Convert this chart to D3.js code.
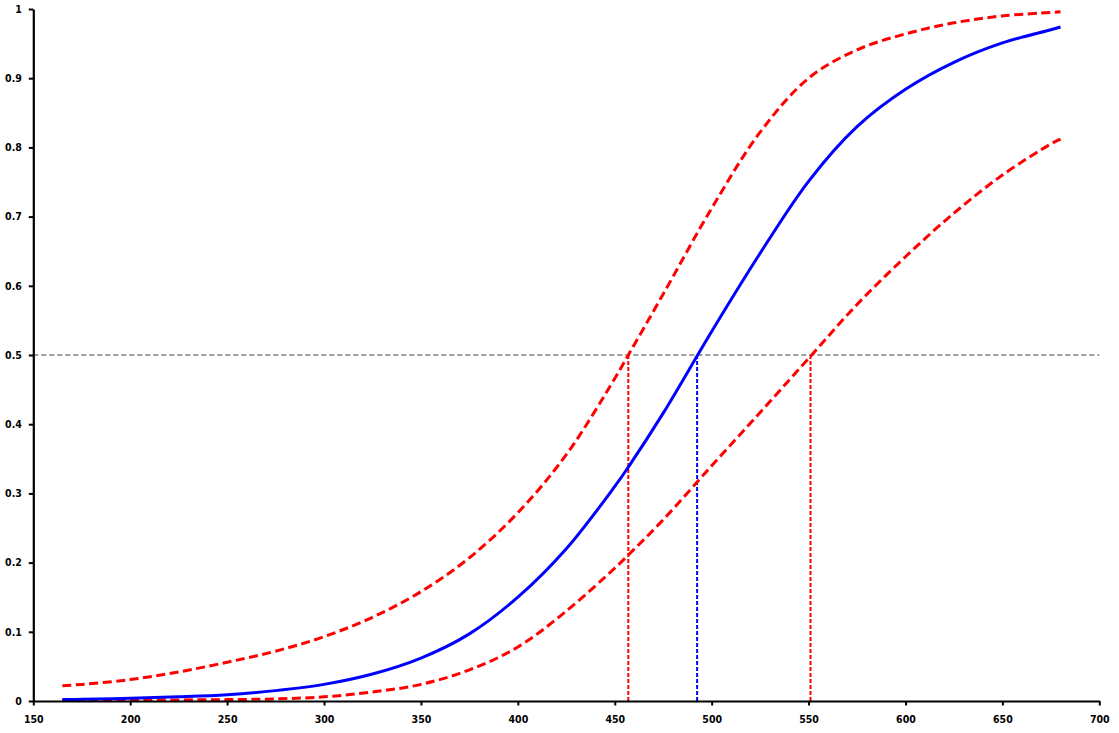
<!DOCTYPE html>
<html>
<head>
<meta charset="utf-8">
<script src="https://cdn.jsdelivr.net/npm/d3@7"></script>
<style>
  html, body { margin: 0; padding: 0; background: #fff; }
  svg { display: block; }
  .tick text { font-family: "DejaVu Sans Condensed", "DejaVu Sans", sans-serif; font-weight: bold; font-size: 10.5px; fill: #000; }
</style>
</head>
<body>
<svg id="chart" width="1119" height="733"></svg>
<script>
// Dose values (x) at which the curves were read
const doses = [165, 175, 200, 225, 250, 275, 300, 325, 350, 375, 400, 425, 450, 457, 475, 500, 525, 550, 575, 600, 625, 650, 675, 680];
// Fitted probability (blue solid)
const fitted = [0.002, 0.0025, 0.004, 0.006, 0.009, 0.015, 0.024, 0.039, 0.062, 0.097, 0.150, 0.220, 0.310, 0.338, 0.416, 0.534, 0.647, 0.751, 0.830, 0.884, 0.923, 0.951, 0.970, 0.974];
// Upper confidence bound (red dashed)
const upper = [0.022, 0.024, 0.031, 0.042, 0.056, 0.072, 0.093, 0.121, 0.158, 0.207, 0.272, 0.356, 0.466, 0.500, 0.588, 0.712, 0.822, 0.900, 0.941, 0.964, 0.980, 0.990, 0.995, 0.996];
// Lower confidence bound (red dashed)
const lower = [0.001, 0.001, 0.001, 0.0015, 0.002, 0.003, 0.006, 0.013, 0.024, 0.045, 0.078, 0.130, 0.192, 0.211, 0.262, 0.340, 0.417, 0.495, 0.573, 0.642, 0.705, 0.760, 0.805, 0.812];
// 50% level and the doses where each curve crosses it
const level50 = 0.5;
const crossings = [
  { name: "upper", dose: 457, color: "#ff0000" },
  { name: "fitted", dose: 492.5, color: "#0000ff" },
  { name: "lower", dose: 551, color: "#ff0000" }
];
const xTicks = [150, 200, 250, 300, 350, 400, 450, 500, 550, 600, 650, 700];
const yTicks = [0, 0.1, 0.2, 0.3, 0.4, 0.5, 0.6, 0.7, 0.8, 0.9, 1];

const svg = d3.select("#chart");
const margin = { left: 33.3, right: 19.7, top: 9, bottom: 32 };
const W = 1119, H = 733;

const x = d3.scaleLinear().domain([150, 700]).range([margin.left, W - margin.right]);
const y = d3.scaleLinear().domain([0, 1]).range([H - margin.bottom, margin.top]);

// reference lines
svg.append("line")
  .attr("x1", x(150)).attr("x2", x(700))
  .attr("y1", y(level50)).attr("y2", y(level50))
  .attr("stroke", "#808080").attr("stroke-width", 1.5)
  .attr("stroke-dasharray", "5,3");

svg.selectAll(".vline").data(crossings).enter().append("line")
  .attr("class", "vline")
  .attr("x1", d => x(d.dose)).attr("x2", d => x(d.dose))
  .attr("y1", y(0)).attr("y2", y(level50))
  .attr("stroke", d => d.color).attr("stroke-width", 2)
  .attr("stroke-dasharray", "4,2");

const line = d3.line().curve(d3.curveCatmullRom.alpha(0.5));

function series(vals) { return doses.map((d, i) => [x(d), y(vals[i])]); }

svg.append("path").attr("d", line(series(upper)))
  .attr("fill", "none").attr("stroke", "#ff0000").attr("stroke-width", 3)
  .attr("stroke-dasharray", "9,4.5");
svg.append("path").attr("d", line(series(lower)))
  .attr("fill", "none").attr("stroke", "#ff0000").attr("stroke-width", 3)
  .attr("stroke-dasharray", "9,4.5");
svg.append("path").attr("d", line(series(fitted)))
  .attr("fill", "none").attr("stroke", "#0000ff").attr("stroke-width", 3);

// axes
const xAxis = d3.axisBottom(x).tickValues(xTicks).tickSize(4.5).tickSizeOuter(0).tickPadding(10).tickFormat(d3.format("d"));
const yAxis = d3.axisLeft(y).tickValues(yTicks).tickSize(4.5).tickSizeOuter(0).tickPadding(7).tickFormat(d => d === 0 ? "0" : d === 1 ? "1" : d3.format(".1f")(d));

const gx = svg.append("g").attr("transform", `translate(0,${y(0)})`).call(xAxis);
const gy = svg.append("g").attr("transform", `translate(${x(150)},0)`).call(yAxis);
[gx, gy].forEach(g => {
  g.select(".domain").attr("stroke", "#000").attr("stroke-width", 2.2);
  g.selectAll(".tick line").attr("stroke", "#000").attr("stroke-width", 2);
});
</script>
</body>
</html>
